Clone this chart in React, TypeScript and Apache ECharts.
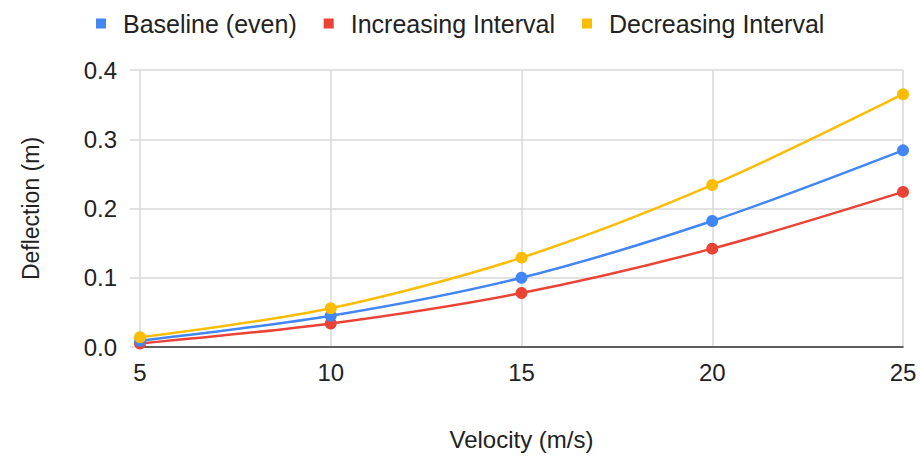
import React, { useEffect, useRef } from "react";
import * as echarts from "echarts";

const velocities = [5, 10, 15, 20, 25];
const baseline = [0.009, 0.045, 0.1, 0.182, 0.284];
const increasing = [0.005, 0.034, 0.078, 0.142, 0.224];
const decreasing = [0.014, 0.056, 0.129, 0.234, 0.365];
const seriesNames = ["Baseline (even)", "Increasing Interval", "Decreasing Interval"];
const colors = ["#4285F4", "#EA4335", "#FBBC04"];

const FONT = "'Liberation Sans', Arial, sans-serif";

export default function App() {
  const ref = useRef<HTMLDivElement>(null);
  useEffect(() => {
    if (!ref.current) return;
    const chart = echarts.init(ref.current, undefined, { renderer: "svg" });
    const all = [baseline, increasing, decreasing];
    chart.setOption({
      animation: false,
      textStyle: { fontFamily: FONT },
      legend: {
        top: 6,
        left: 91,
        icon: "rect",
        itemWidth: 10,
        itemHeight: 10,
        itemGap: 27,
        textStyle: {
          fontSize: 25,
          color: "#222",
          fontFamily: FONT,
          padding: [0, 0, 0, 12],
        },
        data: seriesNames,
      },
      grid: { left: 140, right: 17, top: 70, bottom: 109, containLabel: false },
      xAxis: {
        type: "value",
        min: 5,
        max: 25,
        interval: 5,
        name: "Velocity (m/s)",
        nameLocation: "middle",
        nameGap: 80,
        nameTextStyle: { fontSize: 24, color: "#222", fontFamily: FONT },
        axisLine: { show: true, lineStyle: { color: "#333", width: 1.5 } },
        axisTick: { show: false },
        axisLabel: { fontSize: 24, color: "#222", margin: 13, fontFamily: FONT },
        splitLine: { show: true, lineStyle: { color: "#d9d9d9", width: 1.5 } },
      },
      yAxis: {
        type: "value",
        min: 0,
        max: 0.4,
        interval: 0.1,
        name: "Deflection (m)",
        nameLocation: "middle",
        nameGap: 98,
        nameRotate: 90,
        nameTextStyle: { fontSize: 23, color: "#222", fontFamily: FONT },
        axisLine: { show: false },
        axisTick: { show: true, length: 10, lineStyle: { color: "#d9d9d9", width: 1.5 } },
        axisLabel: {
          fontSize: 24,
          color: "#222",
          margin: 23,
          fontFamily: FONT,
          formatter: (v: number) => v.toFixed(1),
        },
        splitLine: { show: true, lineStyle: { color: "#d9d9d9", width: 1.5 } },
      },
      series: all.map((vals, i) => ({
        name: seriesNames[i],
        type: "line",
        smooth: 0.3,
        data: velocities.map((x, j) => [x, vals[j]]),
        symbol: "circle",
        symbolSize: 12,
        lineStyle: { width: 2.5, color: colors[i] },
        itemStyle: { color: colors[i] },
        z: i === 2 ? 3 : i === 0 ? 2 : 1,
      })),
    });
    return () => chart.dispose();
  }, []);
  return (
    <div
      ref={ref}
      style={{ position: "absolute", left: 0, top: 0, width: 920, height: 456 }}
    />
  );
}
